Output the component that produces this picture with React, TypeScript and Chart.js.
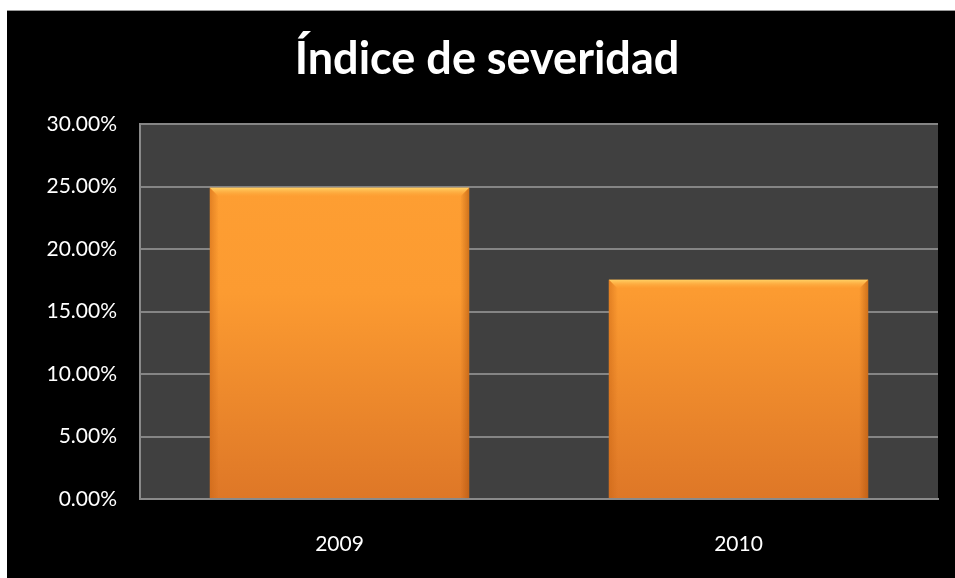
import React, { useEffect, useRef } from "react";
import { Chart, registerables } from "chart.js";

Chart.register(...registerables);

const categories = ["2009", "2010"];
const severityValues = [24.9, 17.55];
const yTickValues = [0, 5, 10, 15, 20, 25, 30];
const chartTitle = "Índice de severidad";

const plotBgPlugin = {
  id: "plotBg",
  beforeDraw(chart: any) {
    const { ctx, chartArea } = chart;
    ctx.save();
    ctx.fillStyle = "#000000";
    ctx.fillRect(0, 0, chart.width, chart.height);
    ctx.fillStyle = "#404040";
    ctx.fillRect(chartArea.left, chartArea.top, chartArea.right - chartArea.left, chartArea.bottom - chartArea.top);
    ctx.restore();
  },
};

const bevelPlugin = {
  id: "bevel",
  afterDatasetsDraw(chart: any) {
    const { ctx } = chart;
    const meta = chart.getDatasetMeta(0);
    meta.data.forEach((bar: any) => {
      const { x, y, base, width } = bar.getProps(["x", "y", "base", "width"], true);
      const l = x - width / 2;
      const r = x + width / 2;
      const t = y;
      const b = base;
      const d = 9;
      ctx.save();
      let g = ctx.createLinearGradient(0, t, 0, t + d);
      g.addColorStop(0, "#ffd266");
      g.addColorStop(1, "rgba(255,170,60,0.0)");
      ctx.fillStyle = g;
      ctx.beginPath();
      ctx.moveTo(l, t);
      ctx.lineTo(r, t);
      ctx.lineTo(r - d, t + d);
      ctx.lineTo(l + d, t + d);
      ctx.closePath();
      ctx.fill();
      g = ctx.createLinearGradient(l, 0, l + d, 0);
      g.addColorStop(0, "rgba(200,100,20,0.5)");
      g.addColorStop(1, "rgba(200,100,20,0)");
      ctx.fillStyle = g;
      ctx.beginPath();
      ctx.moveTo(l, t);
      ctx.lineTo(l + d, t + d);
      ctx.lineTo(l + d, b);
      ctx.lineTo(l, b);
      ctx.closePath();
      ctx.fill();
      g = ctx.createLinearGradient(r, 0, r - d, 0);
      g.addColorStop(0, "rgba(170,80,10,0.55)");
      g.addColorStop(1, "rgba(170,80,10,0)");
      ctx.fillStyle = g;
      ctx.beginPath();
      ctx.moveTo(r, t);
      ctx.lineTo(r - d, t + d);
      ctx.lineTo(r - d, b);
      ctx.lineTo(r, b);
      ctx.closePath();
      ctx.fill();
      ctx.restore();
    });
  },
};

export default function App() {
  const canvasRef = useRef<HTMLCanvasElement | null>(null);

  useEffect(() => {
    if (!canvasRef.current) return;
    const chart = new Chart(canvasRef.current, {
      type: "bar",
      data: {
        labels: categories,
        datasets: [
          {
            label: chartTitle,
            data: severityValues,
            backgroundColor: (context: any) => {
              const c = context.chart;
              const area = c.chartArea;
              if (!area) return "#f7912f";
              const g = c.ctx.createLinearGradient(0, area.top, 0, area.bottom);
              g.addColorStop(0, "#ffa033");
              g.addColorStop(0.45, "#fc9b31");
              g.addColorStop(1, "#de7727");
              return g;
            },
            borderWidth: 0,
            categoryPercentage: 0.65,
            barPercentage: 1,
          },
        ],
      },
      options: {
        animation: false,
        responsive: false,
        maintainAspectRatio: false,
        layout: { padding: { left: 29, right: 17, top: 0, bottom: 0 } },
        plugins: {
          legend: { display: false },
          tooltip: { enabled: false },
          title: {
            display: true,
            text: chartTitle,
            color: "#ffffff",
            font: { family: "Lato", size: 45, weight: "bold" },
            padding: { top: 21, bottom: 38 },
          },
        },
        scales: {
          x: {
            grid: { display: false, drawTicks: false },
            border: { display: true, color: "#8a8a8a", width: 2 },
            ticks: {
              color: "#ffffff",
              font: { family: "Lato", size: 21 },
              padding: 33,
            },
            afterFit: (scale: any) => {
              scale.height = 79;
            },
          },
          y: {
            min: 0,
            max: 30,
            afterBuildTicks: (scale: any) => {
              scale.ticks = yTickValues.map((v) => ({ value: v }));
            },
            grid: { color: "#858585", lineWidth: 2, drawTicks: false },
            border: { display: true, color: "#8a8a8a", width: 2 },
            ticks: {
              color: "#ffffff",
              font: { family: "Lato", size: 21 },
              padding: 23,
              callback: (v: any) => Number(v).toFixed(2) + "%",
            },
            afterFit: (scale: any) => {
              scale.width = 104;
            },
          },
        },
      },
      plugins: [plotBgPlugin, bevelPlugin],
    });
    return () => chart.destroy();
  }, []);

  return (
    <div style={{ position: "absolute", left: 0, top: 0, width: 955, height: 578, background: "#ffffff", overflow: "hidden" }}>
      <div style={{ position: "absolute", left: 7, top: 10, width: 948, height: 568, background: "#000000", borderTop: "1px solid #999", boxSizing: "border-box" }}>
        <canvas ref={canvasRef} width={948} height={567} style={{ display: "block" }} />
      </div>
    </div>
  );
}
